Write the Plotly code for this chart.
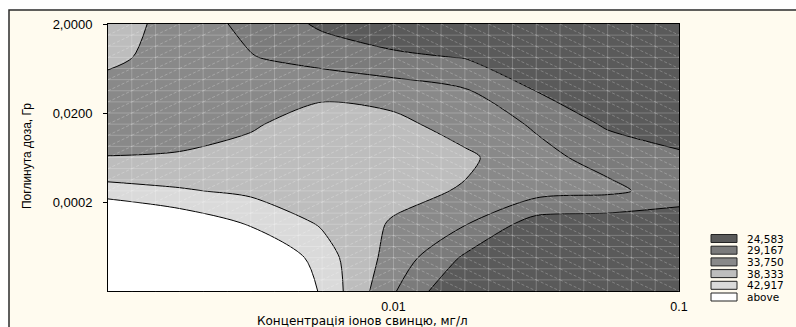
import math
import plotly.graph_objects as go

# ---- data ----
# lead-ion concentration, mg/l (log-spaced grid nodes)
conc = [0.001, 0.001778, 0.003162, 0.005623, 0.01, 0.01778, 0.03162, 0.05623, 0.1]
# absorbed dose, Gy (log-spaced grid nodes, bottom -> top)
dose = [0.000002, 0.00001125, 0.00006325, 0.0003557, 0.002, 0.01125, 0.06324, 0.3556, 2.0]

# response surface values, rows follow `dose`, columns follow `conc`
z_row_0 = [56.7, 55.8, 56.7, 42.0, 29.6, 19.5, 19.5, 19.1, 18.6]
z_row_1 = [54.4, 52.1, 50.6, 40.4, 31.9, 23.9, 21.4, 20.9, 20.5]
z_row_2 = [52.1, 46.6, 42.5, 37.9, 33.2, 29.4, 22.3, 21.8, 21.6]
z_row_3 = [40.0, 38.8, 37.4, 36.3, 35.4, 33.3, 31.0, 30.1, 27.3]
z_row_4 = [33.85, 34.0, 35.1, 36.5, 36.5, 34.7, 30.3, 27.8, 25.3]
z_row_5 = [31.9, 32.6, 33.3, 35.6, 35.1, 31.5, 28.7, 23.9, 22.3]
z_row_6 = [31.5, 31.0, 31.5, 32.8, 31.5, 29.6, 24.5, 21.8, 20.9]
z_row_7 = [35.1, 31.2, 29.4, 27.3, 25.5, 24.4, 22.3, 21.4, 20.5]
z_row_8 = [36.0, 31.9, 27.9, 23.8, 21.4, 20.0, 19.1, 18.6, 18.2]
z_grid = [z_row_0, z_row_1, z_row_2, z_row_3, z_row_4, z_row_5, z_row_6, z_row_7, z_row_8]

level_start = 24.583
level_end = 42.917
level_step = 4.5834
legend_labels = ["24,583", "29,167", "33,750", "38,333", "42,917", "above"]
band_colors = ["#5a5a5a", "#7b7b7b", "#898989", "#bdbdbd", "#dadada", "#ffffff"]

x_tickvals = [0.01, 0.1]
x_ticktext = ["0.01", "0.1"]
y_tickvals = [2.0, 0.02, 0.0002]
y_ticktext = ["2,0000", "0,0200", "0,0002"]

x_title = "Концентрація іонов свинцю, мг/л"
y_title = "Поглинута доза, Гр"

# ---- figure ----
W, H = 796, 327
L, R, T, B = 108, 117, 24, 36
pw, ph = W - L - R, H - T - B


def px_x(px):
    return (px - L) / pw


def px_y(py):
    return (H - B - py) / ph


n_bands = len(band_colors)
colorscale = [[i / (n_bands - 1), c] for i, c in enumerate(band_colors)]

fig = go.Figure()
fig.add_trace(go.Contour(
    x=conc, y=dose, z=z_grid,
    contours=dict(start=level_start, end=level_end, size=level_step,
                  coloring="fill", showlines=True),
    line=dict(color="black", width=1, smoothing=0.8),
    colorscale=colorscale, showscale=False, hoverinfo="skip",
))

shapes = []
# cream frame of the chart window
shapes.append(dict(type="rect", xref="paper", yref="paper", layer="below",
                   x0=px_x(9), x1=px_x(W + 20), y0=px_y(H + 20), y1=px_y(10),
                   fillcolor="#fffbef", line=dict(color="#2b2b2b", width=1.5)))

# surface mesh texture over the plot area
n = 24
grid_path = ""
for i in range(1, n):
    grid_path += f"M{i/n},0 L{i/n},1 "
    grid_path += f"M0,{i/n} L1,{i/n} "
shapes.append(dict(type="path", xref="paper", yref="paper", layer="above",
                   path=grid_path, line=dict(color="rgba(255,255,255,0.22)", width=1)))
diag_path = ""
for i in range(n):
    for j in range(n):
        if i < n // 2:
            diag_path += f"M{i/n},{j/n} L{(i+1)/n},{(j+1)/n} "
        else:
            diag_path += f"M{i/n},{(j+1)/n} L{(i+1)/n},{j/n} "
shapes.append(dict(type="path", xref="paper", yref="paper", layer="above",
                   path=diag_path,
                   line=dict(color="rgba(255,255,255,0.24)", width=1, dash="3px,2px")))

annotations = []
# legend swatches
leg_y0 = 238.5
leg_dy = 11.7
for k, (lab, col) in enumerate(zip(legend_labels, band_colors)):
    yc = leg_y0 + k * leg_dy
    shapes.append(dict(type="rect", xref="paper", yref="paper",
                       x0=px_x(711), x1=px_x(737), y0=px_y(yc + 4), y1=px_y(yc - 4),
                       fillcolor=col, line=dict(color="#222222", width=1)))
    annotations.append(dict(xref="paper", yref="paper", x=px_x(746), y=px_y(yc),
                            xanchor="left", yanchor="middle", showarrow=False, borderpad=0,
                            text=lab, font=dict(family="DejaVu Sans", size=10.5, color="black")))

annotations.append(dict(xref="paper", yref="paper", x=px_x(362), y=px_y(320.5),
                        xanchor="center", yanchor="middle", showarrow=False, borderpad=0,
                        text=x_title, font=dict(family="DejaVu Sans", size=12, color="black")))
annotations.append(dict(xref="paper", yref="paper", x=px_x(27), y=px_y(156),
                        xanchor="center", yanchor="middle", showarrow=False, textangle=-90,
                        text=y_title, font=dict(family="Liberation Sans", size=12, color="black")))

fig.update_layout(
    width=W, height=H,
    margin=dict(l=L, r=R, t=T, b=B, pad=0),
    paper_bgcolor="white", plot_bgcolor="white",
    showlegend=False,
    shapes=shapes, annotations=annotations,
    xaxis=dict(type="log", range=[-3, -1], tickvals=x_tickvals, ticktext=x_ticktext,
               showgrid=False, zeroline=False, showline=True, mirror=True,
               linecolor="black", linewidth=1, ticks="", ticklabelstandoff=4,
               tickfont=dict(family="Liberation Sans", size=12.5, color="black")),
    yaxis=dict(type="log", range=[math.log10(0.000002), math.log10(2.0)],
               tickvals=y_tickvals, ticktext=y_ticktext,
               showgrid=False, zeroline=False, showline=True, mirror=True,
               linecolor="black", linewidth=1, ticks="outside", ticklen=4,
               tickcolor="black", ticklabelstandoff=8,
               tickfont=dict(family="Liberation Sans", size=13, color="black")),
)

fig.write_html("out.html", config={"displayModeBar": False},
               post_script="document.body.style.margin='0';document.body.style.overflow='hidden';")
